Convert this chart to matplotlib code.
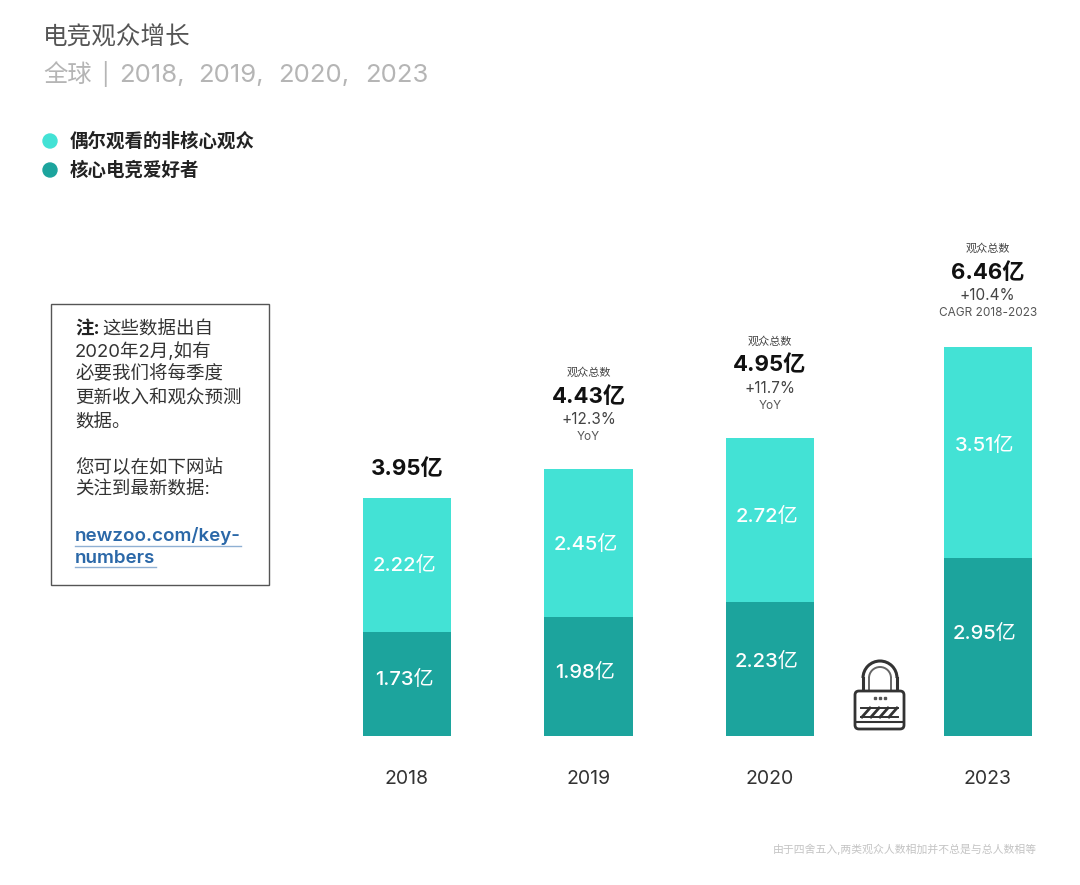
import matplotlib
matplotlib.use("Agg")
import matplotlib.pyplot as plt
from matplotlib.patches import Rectangle, FancyBboxPatch, Circle, Arc

plt.rcParams['font.family'] = ['Inter', 'Noto Sans CJK SC', 'DejaVu Sans']

years = ['2018', '2019', '2020', '2023']
core_fans = [1.73, 1.98, 2.23, 2.95]
casual_viewers = [2.22, 2.45, 2.72, 3.51]
totals = [3.95, 4.43, 4.95, 6.46]
growth = [None, '+12.3%', '+11.7%', '+10.4%']
growth_basis = [None, 'YoY', 'YoY', 'CAGR 2018-2023']
legend_labels = ['偶尔观看的非核心观众', '核心电竞爱好者']

note_lines = ['2020年2月,如有', '必要我们将每季度', '更新收入和观众预测', '数据。',
              '您可以在如下网站', '关注到最新数据:']
link_lines = ['newzoo.com/key-', 'numbers']

LIGHT = '#43E2D5'
DARK = '#1CA49D'
W, H = 1080, 885
PX = 0.72  # points per pixel
x_pos = [0, 1, 2, 3.2]  # gap before 2023

# labels in the source sit a bit off the segment middles, nudges in px (up is positive)
core_nudge = [4, 4, 7, 14]
casual_nudge = [0, -1, 3, 7]
header_nudge = [-2, -2, -2, 0]

fig = plt.figure(figsize=(10.8, 8.85), dpi=100)

# bars: left edge and y range set so 1 unit is about 60 px
ax = fig.add_axes([300 / W, (H - 736) / H, 760 / W, 536 / H])
ax.bar(x_pos, core_fans, width=0.485, color=DARK)
ax.bar(x_pos, casual_viewers, width=0.485, bottom=core_fans, color=LIGHT)
ax.set_xlim(-107 / 181.5, 653 / 181.5)
ax.set_ylim(0, 536 / 60.2)
ax.set_yticks([])
ax.set_xticks(x_pos)
ax.set_xticklabels(years, fontsize=14, color='#333333')
ax.tick_params(axis='x', length=0, pad=24.5)
for s in ax.spines.values():
    s.set_visible(False)
ax.patch.set_alpha(0)


def header(text, x, y, offset, **kw):
    ax.annotate(text, (x, y), xytext=(0, offset), textcoords='offset points',
                ha='center', va='center', **kw)


for i, x in enumerate(x_pos):
    ax.annotate(f'{core_fans[i]:.2f}亿', (x, core_fans[i] / 2), xytext=(-3 * PX, core_nudge[i] * PX),
                textcoords='offset points', color='white', fontsize=14.5, fontweight='medium',
                ha='center', va='center')
    ax.annotate(f'{casual_viewers[i]:.2f}亿', (x, core_fans[i] + casual_viewers[i] / 2),
                xytext=(-3 * PX, casual_nudge[i] * PX), textcoords='offset points', color='white',
                fontsize=14.5, fontweight='medium', ha='center', va='center')
    n = header_nudge[i] * PX
    if growth[i] is None:
        header(f'{totals[i]:.2f}亿', x, totals[i], 23 + n, fontsize=16, fontweight='bold', color='#111111')
        continue
    header('观众总数', x, totals[i], 71 + n, fontsize=8, color='#444444')
    header(f'{totals[i]:.2f}亿', x, totals[i], 54 + n, fontsize=16, fontweight='bold', color='#111111')
    header(growth[i], x, totals[i], 37 + n, fontsize=11, color='#444444')
    header(growth_basis[i], x, totals[i], 24.5 + n, fontsize=8.5, color='#555555')

# overlay in pixel coordinates for the page furniture
page = fig.add_axes([0, 0, 1, 1])
page.set_xlim(0, W)
page.set_ylim(H, 0)
page.axis('off')
page.patch.set_alpha(0)

page.text(43, 45, '电竞观众增长', fontsize=17.7, color='#555555', va='baseline')
page.text(43, 82, '全球', fontsize=17.5, color='#b5b5b5', va='baseline')
page.text(101, 82, '|', fontsize=16, color='#b5b5b5', va='baseline')
for token, x in zip(['2018,', '2019,', '2020,', '2023'], [119, 198, 278, 365]):
    page.text(x, 82, token, fontsize=18.5, color='#b5b5b5', va='baseline')

page.add_patch(Circle((50, 141), 7, color=LIGHT))
page.add_patch(Circle((50, 170), 7, color=DARK))
page.text(70, 147, legend_labels[0], fontsize=13.3, fontweight='bold', color='#222222', va='baseline')
page.text(70, 176, legend_labels[1], fontsize=13.3, fontweight='bold', color='#222222', va='baseline')

page.add_patch(Rectangle((51, 304), 218, 281, fill=False, edgecolor='#555555', lw=1))
page.text(75, 334.5, '注:', fontsize=13.3, fontweight='bold', color='#222222', va='baseline')
page.text(102, 334.5, '这些数据出自', fontsize=13.3, color='#333333', va='baseline')
for line, y in zip(note_lines, [357, 379, 403, 427.5, 473, 495]):
    page.text(75, y, line, fontsize=13.3, color='#333333', va='baseline')
for line, y in zip(link_lines, [541, 563]):
    page.text(75, y, line, fontsize=13.5, fontweight='semibold', color='#2B68A8', va='baseline')
page.plot([75, 241], [546, 546], color='#8FB0D3', lw=1)
page.plot([75, 156], [567, 567], color='#8FB0D3', lw=1)

page.text(1037, 849, '由于四舍五入,两类观众人数相加并不总是与总人数相等', fontsize=7.8, color='#c4c4c4',
          ha='right', va='center')

# padlock icon
ink = '#333333'
page.plot([863, 863], [678, 691], color=ink, lw=2.2)
page.plot([897, 897], [678, 691], color=ink, lw=2.2)
page.add_patch(Arc((880, 678), 34, 34, theta1=180, theta2=360, color=ink, lw=2.2))
page.plot([869, 869], [678, 691], color='#666666', lw=1.4)
page.plot([891, 891], [678, 691], color='#666666', lw=1.4)
page.add_patch(Arc((880, 678), 22, 22, theta1=180, theta2=360, color='#666666', lw=1.4))
page.add_patch(FancyBboxPatch((858, 694), 43, 32, boxstyle='round,pad=3,rounding_size=4',
                              facecolor='white', edgecolor=ink, lw=2, zorder=3))
page.plot([856, 903], [722, 722], color=ink, lw=1.5, zorder=4)
page.plot([875, 880, 885], [698, 698, 698], ls='none', marker='s', ms=2, color='#555555', zorder=4)
page.plot([861, 898], [708, 708], color=ink, lw=1.4, zorder=4)
page.plot([861, 898], [717, 717], color=ink, lw=1.4, zorder=4)
for x0 in [866, 875, 884, 893]:
    page.plot([x0 - 4, x0 + 4], [717, 708], color=ink, lw=2, zorder=4)

fig.savefig('out.png', dpi=100, facecolor='white')
